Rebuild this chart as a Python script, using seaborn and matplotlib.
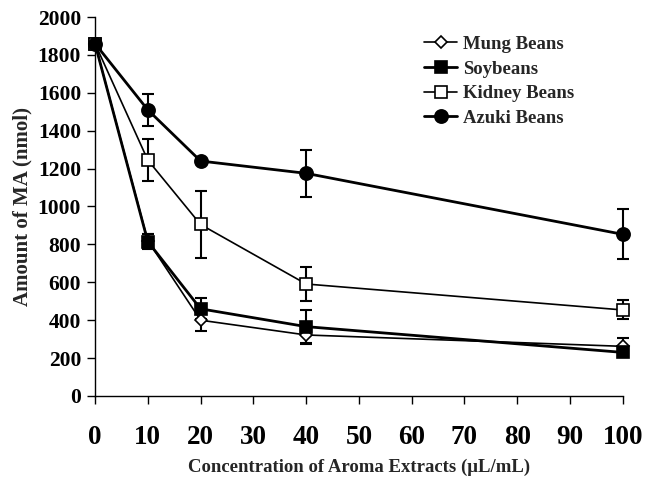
import matplotlib
matplotlib.use("Agg")
import matplotlib.pyplot as plt
import seaborn as sns
import pandas as pd

conc = [0, 10, 20, 40, 100]
mung = [1860, 820, 400, 322, 262]
mung_err = [0, 35, 55, 50, 45]
soy = [1860, 815, 460, 366, 230]
soy_err = [0, 40, 55, 88, 20]
kidney = [1860, 1245, 905, 591, 454]
kidney_err = [0, 112, 178, 90, 50]
azuki = [1860, 1510, 1240, 1175, 853]
azuki_err = [0, 85, 15, 125, 132]

series = ["Mung Beans", "Soybeans", "Kidney Beans", "Azuki Beans"]
values = [mung, soy, kidney, azuki]
errors = [mung_err, soy_err, kidney_err, azuki_err]
markers = ["D", "s", "s", "o"]
faces = ["white", "black", "white", "black"]
msizes = [6.5, 8.5, 8.5, 9.5]
lws = [1.2, 2.0, 1.2, 2.0]

sns.set_style("white")
plt.rcParams['font.family'] = ['Liberation Serif', 'DejaVu Serif']
plt.rcParams['font.weight'] = 'bold'

fig = plt.figure(figsize=(6.57, 4.79), dpi=100)
ax = fig.add_axes([0.1446, 0.1733, 0.8034, 0.7912])

for name, v, e, m, fc, ms, lw in zip(series, values, errors, markers, faces, msizes, lws):
    df = pd.DataFrame({"x": conc, "y": v})
    ax.errorbar(conc, v, yerr=e, fmt="none", ecolor="black", elinewidth=1.5,
                capsize=4, capthick=1.5, zorder=2, clip_on=False)
    sns.lineplot(data=df, x="x", y="y", ax=ax, color="black", linewidth=lw,
                 marker=m, markersize=ms, markerfacecolor=fc, markeredgecolor="black",
                 markeredgewidth=1.2, label=name, zorder=3, clip_on=False)

ax.set_xlim(0, 100)
ax.set_ylim(0, 2000)
ax.set_xticks(range(0, 101, 10))
ax.set_yticks(range(0, 2001, 200))
for s in ["top", "right"]:
    ax.spines[s].set_visible(False)
for s in ["left", "bottom"]:
    ax.spines[s].set_color("black")
    ax.spines[s].set_linewidth(1.0)
ax.tick_params(axis="x", bottom=True, direction="out", length=6, width=1, colors="black",
               labelsize=19.5, pad=15)
ax.tick_params(axis="y", left=True, direction="out", length=6, width=1, colors="black",
               labelsize=15.5, pad=4)
for lab in ax.get_xticklabels() + ax.get_yticklabels():
    lab.set_fontweight("bold")
ax.set_xlabel("Concentration of Aroma Extracts (\u03bcL/mL)", fontsize=13.5,
              fontweight="bold")
ax.set_ylabel("Amount of MA (nmol)", fontsize=15, fontweight="bold")
ax.xaxis.set_label_coords(0.5, -0.187)
ax.yaxis.set_label_coords(-0.138, 0.5)
ax.xaxis.label.set_va("center")
ax.yaxis.label.set_va("center")

leg = ax.legend(loc="upper right", bbox_to_anchor=(0.94, 0.995), frameon=False,
                prop={"weight": "bold", "size": 13.5}, handlelength=1.8,
                handletextpad=0.3, labelspacing=0.4)

fig.savefig("out.png", dpi=100)
